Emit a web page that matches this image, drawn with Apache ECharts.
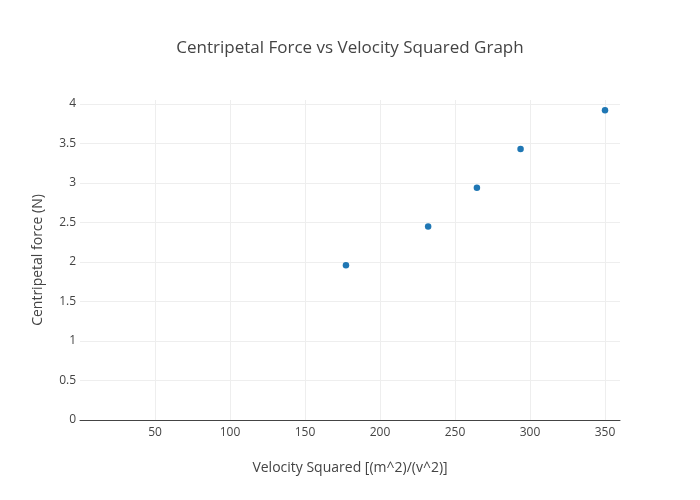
<!DOCTYPE html>
<html>
<head>
<meta charset="utf-8">
<script src="https://cdn.jsdelivr.net/npm/echarts@6/dist/echarts.min.js"></script>
<style>html,body{margin:0;padding:0;background:#fff}#c{width:700px;height:500px}</style>
</head>
<body>
<div id="c"></div>
<script>
var velocitySquared = [177.3, 232.1, 264.6, 293.7, 350];
var centripetalForce = [1.96, 2.45, 2.94, 3.43, 3.92];
var titleText = 'Centripetal Force vs Velocity Squared Graph';
var xName = 'Velocity Squared [(m^2)/(v^2)]';
var yName = 'Centripetal force (N)';

var points = velocitySquared.map(function (v, i) { return [v, centripetalForce[i]]; });
var font = '"Open Sans", "Noto Sans", sans-serif';

var chart = echarts.init(document.getElementById('c'), null, {renderer: 'canvas'});
chart.setOption({
  animation: false,
  backgroundColor: '#fff',
  title: {
    text: titleText,
    left: 'center',
    top: 35,
    textStyle: {fontFamily: font, fontSize: 17, fontWeight: 'normal', color: '#444'}
  },
  grid: {left: 80, right: 80, top: 100, bottom: 80},
  xAxis: {
    type: 'value',
    min: 0,
    max: 360,
    interval: 50,
    name: xName,
    nameLocation: 'middle',
    nameGap: 41,
    nameTextStyle: {fontFamily: font, fontSize: 14, color: '#444'},
    axisLine: {show: true, lineStyle: {color: '#444', width: 1}},
    axisTick: {show: false},
    axisLabel: {fontFamily: font, fontSize: 12, color: '#444', margin: 7, showMinLabel: false, showMaxLabel: false},
    splitLine: {show: true, showMinLine: false, showMaxLine: false, lineStyle: {color: '#eee', width: 1}}
  },
  yAxis: {
    type: 'value',
    min: 0,
    max: 4.05,
    interval: 0.5,
    name: yName,
    nameLocation: 'middle',
    nameGap: 35,
    nameTextStyle: {fontFamily: font, fontSize: 14, color: '#444'},
    axisLine: {show: false},
    axisTick: {show: false},
    axisLabel: {fontFamily: font, fontSize: 12, color: '#444', margin: 4, padding: [3, 0, 0, 0], showMaxLabel: false},
    splitLine: {show: true, showMinLine: false, showMaxLine: false, lineStyle: {color: '#eee', width: 1}}
  },
  series: [{
    type: 'scatter',
    data: points,
    symbol: 'circle',
    symbolSize: 6.5,
    itemStyle: {color: '#1f77b4', opacity: 1}
  }]
});
</script>
</body>
</html>
